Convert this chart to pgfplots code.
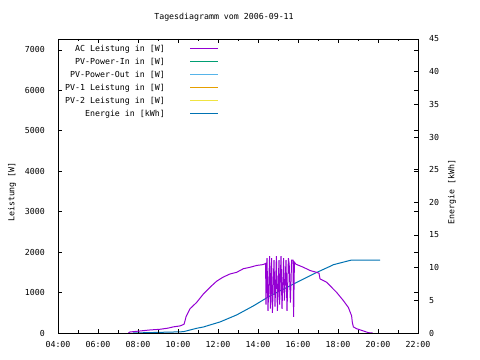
\documentclass[border=0pt]{standalone}
\usepackage{fontspec}
\setmainfont{DejaVu Sans Mono}
\usepackage{pgfplots}
\pgfplotsset{compat=1.18}
\definecolor{cAC}{HTML}{9400D3}
\definecolor{cIn}{HTML}{009E73}
\definecolor{cOut}{HTML}{56B4E9}
\definecolor{cPA}{HTML}{E69F00}
\definecolor{cPB}{HTML}{F0E442}
\definecolor{cEn}{HTML}{0072B2}
\newcommand{\gf}{\fontsize{8.3}{10}\selectfont}
\pgfplotsset{
  limg/.style={legend image code/.code={\draw[#1, line width=1.1bp] (0bp,0bp) -- (28bp,0bp);}},
}
\begin{document}
\begin{tikzpicture}
\useasboundingbox (0,0) rectangle (480bp,360bp);
\pgfplotsset{
  base/.style={
    scale only axis, width=360bp, height=294bp,
    at={(58bp,27bp)}, anchor=south west,
    xmin=4, xmax=22,
    tick align=inside,
    major tick length=4bp, minor tick length=2.5bp,
    every tick/.style={black, line width=0.6bp},
    axis line style={line width=0.8bp},
    every tick label/.style={font=\gf},
    /pgf/number format/assume math mode=true,
    /pgf/number format/1000 sep={},
  }
}
\begin{axis}[base,
  ymin=0, ymax=45,
  ytick={0,5,...,45},
  axis y line*=right,
  axis x line=none,
  yticklabel style={inner sep=0pt, xshift=11bp},
]
\addplot[cEn, line width=1bp] coordinates {
(7.75,0) (9.75,0.15) (10.27,0.2) (10.93,0.72) (11.27,0.92) (11.6,1.23) (12.1,1.69)
(12.93,2.76) (13.77,4.15) (14.6,5.68) (15.43,6.96) (15.93,7.73) (16.27,8.25) (16.93,9.26)
(17.6,10.2) (17.77,10.45) (18.27,10.85) (18.68,11.17) (20.1,11.17)
};
\end{axis}
\begin{axis}[base,
  ymin=0, ymax=7270,
  ytick={0,1000,...,7000},
  ytick pos=both,
  xtick={4,6,...,22},
  minor xtick={5,7,...,21},
  xtick pos=both,
  xticklabels={04:00,06:00,08:00,10:00,12:00,14:00,16:00,18:00,20:00,22:00},
  xticklabel style={inner sep=0pt, yshift=-8bp},
  yticklabel style={inner sep=0pt, xshift=-13bp},
  legend plot pos=right,
  legend cell align=right,
  legend style={draw=none, fill=none, font=\gf,
    at={(7bp,288bp)}, anchor=north west,
    inner sep=0pt, row sep=5.5bp, column sep=25bp,
    nodes={inner sep=0pt, text height=6bp, text depth=1.5bp}},
]
\addplot[cAC, line width=1bp, limg=cAC] coordinates {
(7.52,0) (7.6,25) (8.1,50) (8.6,75) (9.1,92) (9.5,120) (9.75,150) (10.1,175) (10.3,215)
(10.35,300) (10.4,400) (10.6,600) (10.93,755) (11.27,965) (11.6,1130) (11.93,1280)
(12.25,1380) (12.6,1460) (12.93,1500) (13.27,1590) (13.6,1625) (13.93,1670) (14.23,1690)
(14.30,1700) (14.38,1720) (14.40,700) (14.45,1850) (14.50,550) (14.58,1900) (14.62,600)
(14.68,1850) (14.72,500) (14.80,1800) (14.85,650) (14.92,1900) (14.97,550) (15.05,1800)
(15.08,700) (15.15,1900) (15.20,600) (15.28,1850) (15.32,800) (15.40,1800) (15.45,550)
(15.52,1850) (15.56,1700) (15.62,750) (15.68,1800) (15.75,1800) (15.78,400) (15.82,1750)
(15.90,1700) (15.95,1690)
(16.27,1625) (16.6,1545) (16.93,1500) (17.05,1480) (17.1,1340) (17.43,1255) (17.6,1170)
(17.93,1005) (18.27,800) (18.52,630) (18.68,425) (18.72,250) (18.77,150) (18.93,107)
(19.27,50) (19.52,8) (19.73,0)
};
\addlegendentry{AC Leistung in [W]}
\addlegendimage{limg=cIn}
\addlegendentry{PV-Power-In in [W]}
\addlegendimage{limg=cOut}
\addlegendentry{PV-Power-Out in [W]}
\addlegendimage{limg=cPA}
\addlegendentry{PV-1 Leistung in [W]}
\addlegendimage{limg=cPB}
\addlegendentry{PV-2 Leistung in [W]}
\addlegendimage{limg=cEn}
\addlegendentry{Energie in [kWh]}
\end{axis}
\node[font=\gf] at (224bp,343bp) {Tagesdiagramm vom 2006-09-11};
\node[font=\gf, rotate=90] at (12bp,168bp) {Leistung [W]};
\node[font=\gf, rotate=90] at (452bp,168bp) {Energie [kWh]};
\end{tikzpicture}
\end{document}
